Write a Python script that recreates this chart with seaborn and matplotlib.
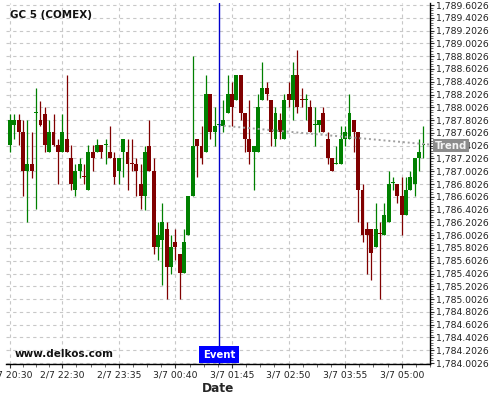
import numpy as np
import seaborn as sns
import matplotlib
matplotlib.use("Agg")
import matplotlib.pyplot as plt
from matplotlib.ticker import FuncFormatter, AutoMinorLocator
from matplotlib.transforms import blended_transform_factory

# 5-minute candles, GC 5 (COMEX)
opens = [1787.41, 1787.72, 1787.81, 1787.61, 1787.01, 1787.11, 1787.92, 1787.81, 1787.90, 1787.31,
         1787.61, 1787.41, 1787.31, 1787.51, 1787.21, 1786.71, 1787.01, 1786.92, 1786.71, 1787.31,
         1787.31, 1787.41, 1787.41, 1787.31, 1787.21, 1787.01, 1787.31, 1787.31, 1787.12, 1787.11,
         1786.81, 1786.61, 1787.40, 1787.01, 1785.82, 1785.92, 1786.10, 1785.51, 1785.90, 1785.71,
         1785.41, 1786.01, 1786.61, 1787.51, 1787.40, 1787.31, 1788.21, 1787.61, 1787.72, 1787.71,
         1787.91, 1788.21, 1788.11, 1788.51, 1787.91, 1787.51, 1787.31, 1787.31, 1788.11, 1788.30,
         1788.11, 1787.51, 1787.80, 1787.51, 1788.21, 1788.11, 1788.51, 1788.12, 1788.11, 1788.01,
         1787.72, 1787.72, 1787.91, 1787.51, 1787.21, 1787.12, 1787.12, 1787.51, 1787.51, 1787.80,
         1787.61, 1786.71, 1786.10, 1786.10, 1785.82, 1786.03, 1786.01, 1786.21, 1786.82, 1786.81,
         1786.61, 1786.31, 1786.71, 1786.81, 1787.21, 1787.41]
highs = [1787.90, 1787.90, 1787.90, 1787.81, 1787.81, 1787.61, 1788.30, 1788.10, 1788.00, 1787.81,
         1787.90, 1787.51, 1787.90, 1788.51, 1787.41, 1787.11, 1787.21, 1787.11, 1787.41, 1787.41,
         1787.51, 1787.41, 1787.51, 1787.71, 1787.31, 1787.21, 1787.51, 1787.51, 1787.51, 1787.21,
         1787.11, 1787.40, 1787.80, 1787.21, 1786.21, 1786.50, 1786.21, 1786.00, 1786.10, 1785.71,
         1786.10, 1786.61, 1788.80, 1787.51, 1787.71, 1788.51, 1788.21, 1788.01, 1787.72, 1788.11,
         1788.51, 1788.40, 1788.51, 1788.51, 1787.91, 1788.11, 1787.40, 1788.21, 1788.71, 1788.40,
         1788.11, 1788.01, 1787.91, 1788.21, 1788.40, 1788.71, 1788.90, 1788.30, 1788.21, 1788.11,
         1788.01, 1787.80, 1788.01, 1787.61, 1787.21, 1787.40, 1787.71, 1787.71, 1788.21, 1787.80,
         1787.61, 1786.81, 1786.21, 1786.10, 1786.50, 1786.21, 1786.50, 1787.01, 1786.91, 1786.81,
         1786.91, 1786.91, 1787.01, 1787.21, 1787.51, 1787.71]
lows = [1787.31, 1787.51, 1787.41, 1786.61, 1786.21, 1786.90, 1786.41, 1787.71, 1787.31, 1787.31,
        1787.39, 1786.81, 1787.31, 1787.31, 1786.71, 1786.61, 1786.90, 1786.81, 1786.71, 1787.01,
        1787.31, 1787.21, 1787.11, 1787.21, 1786.81, 1786.81, 1786.91, 1786.71, 1787.01, 1786.61,
        1786.41, 1786.40, 1787.01, 1785.71, 1785.61, 1785.22, 1785.00, 1785.40, 1785.61, 1785.01,
        1785.41, 1786.01, 1786.61, 1786.91, 1787.11, 1787.31, 1787.51, 1787.40, 1787.71, 1787.61,
        1787.91, 1787.71, 1788.11, 1787.80, 1787.31, 1787.11, 1786.71, 1787.31, 1788.11, 1788.11,
        1787.40, 1787.40, 1787.51, 1787.51, 1788.01, 1787.80, 1787.91, 1788.01, 1787.80, 1787.61,
        1787.40, 1787.61, 1787.61, 1787.11, 1787.01, 1787.11, 1787.12, 1787.40, 1787.51, 1787.31,
        1786.21, 1785.90, 1785.40, 1785.30, 1785.82, 1785.01, 1786.01, 1786.21, 1786.71, 1786.50,
        1786.00, 1786.31, 1786.71, 1786.61, 1787.01, 1787.21]
closes = [1787.81, 1787.81, 1787.61, 1787.01, 1787.11, 1787.01, 1787.92, 1787.72, 1787.41, 1787.61,
          1787.41, 1787.31, 1787.61, 1787.31, 1786.81, 1787.01, 1787.11, 1786.91, 1787.31, 1787.21,
          1787.41, 1787.31, 1787.41, 1787.21, 1786.91, 1787.21, 1787.51, 1787.11, 1787.11, 1787.01,
          1786.61, 1787.31, 1787.01, 1785.82, 1786.00, 1786.21, 1785.51, 1785.81, 1785.81, 1785.41,
          1785.90, 1786.61, 1787.40, 1787.40, 1787.21, 1788.21, 1787.61, 1787.71, 1787.72, 1787.80,
          1788.21, 1788.01, 1788.51, 1787.91, 1787.51, 1787.31, 1787.40, 1788.01, 1788.30, 1788.21,
          1787.61, 1787.91, 1787.61, 1788.11, 1788.11, 1788.51, 1788.01, 1788.11, 1788.11, 1787.61,
          1787.72, 1787.80, 1787.61, 1787.21, 1787.01, 1787.12, 1787.51, 1787.61, 1787.91, 1787.61,
          1786.71, 1786.01, 1786.01, 1785.72, 1786.10, 1786.02, 1786.31, 1786.81, 1786.82, 1786.61,
          1786.31, 1786.71, 1786.91, 1787.21, 1787.31, 1787.41]

tick_idx = [0, 12, 25, 38, 51, 64, 77, 90]
tick_labels = ["2/7 20:30", "2/7 22:30", "2/7 23:35", "3/7 00:40",
               "3/7 01:45", "3/7 02:50", "3/7 03:55", "3/7 05:00"]
price_ticks = np.round(1784.0026 + 0.2 * np.arange(29), 4)

event_idx = 48
trend_x = [48, 96.4]
trend_y = [1787.72, 1787.42]

sns.set_style("white")
plt.rcParams['font.family'] = ['DejaVu Sans']

o = np.array(opens); h = np.array(highs); l = np.array(lows); c = np.array(closes)
x = np.arange(len(o))
up = c >= o
colors = np.where(up, '#008000', '#800000')
body_lo = np.minimum(o, c)
body_h = np.maximum(np.abs(c - o), 0.016)

fig = plt.figure(figsize=(5, 4), dpi=100)
ax = fig.add_axes([0.012, 0.09, 0.848, 0.9025])

ax.vlines(x, l, h, colors=colors, linewidth=0.9, zorder=2)
ax.bar(x, body_h, bottom=body_lo, width=0.9, color=colors, linewidth=0, zorder=3)

sns.lineplot(x=trend_x, y=trend_y, ax=ax, color='#a0a0a0', linewidth=1.4,
             linestyle=(0, (1, 1.5)), zorder=4)
ax.axvline(event_idx, color='#0000cc', linewidth=1, zorder=5)

ax.set_xlim(-0.92, 96.42)
ax.set_ylim(1783.987, 1789.634)

ax.set_xticks(tick_idx)
ax.set_xticklabels(tick_labels)
minor = []
for a, b in zip(tick_idx[:-1], tick_idx[1:]):
    minor += list(np.linspace(a, b, 5)[1:-1])
minor += [90 + 3.25 * k for k in (1, 2)]
ax.set_xticks(minor, minor=True)

ax.yaxis.tick_right()
ax.set_yticks(price_ticks)
ax.yaxis.set_major_formatter(FuncFormatter(lambda v, p: f"{v:,.4f}"))
ax.yaxis.set_minor_locator(AutoMinorLocator(5))

ax.tick_params(axis='both', which='major', labelsize=6.7, length=3, width=0.8,
               color='#333333', labelcolor='#222222', pad=1.5)
ax.tick_params(axis='both', which='minor', length=2, width=0.6, color='#555555')
ax.tick_params(axis='y', which='both', left=False, right=True)
ax.tick_params(axis='x', which='both', bottom=True)

ax.grid(True, which='major', color='#c8c8c8', linestyle=(0, (3, 3)), linewidth=0.8)
ax.set_axisbelow(True)

for s in ['left', 'top']:
    ax.spines[s].set_visible(False)
for s in ['right', 'bottom']:
    ax.spines[s].set_color('black')
    ax.spines[s].set_linewidth(1.0)

ax.set_xlabel("Date", fontsize=8.7, fontweight='bold', labelpad=2)
ax.set_ylabel("")

ax.text(0.009, 0.967, "GC 5 (COMEX)", transform=ax.transAxes, fontsize=7.5,
        fontweight='bold', color='#111111', ha='left', va='center')
ax.text(0.021, 0.028, "www.delkos.com", transform=ax.transAxes, fontsize=7.5,
        fontweight='bold', color='#111111', ha='left', va='center')

tr = blended_transform_factory(ax.transData, ax.transAxes)
ax.text(event_idx, 0.012, "Event", transform=tr, ha='center', va='bottom',
        fontsize=7.3, fontweight='bold', color='white', zorder=6,
        bbox=dict(boxstyle='square,pad=0.35', fc='#0000ff', ec='none'))

tr2 = blended_transform_factory(ax.transAxes, ax.transData)
ax.text(1.011, trend_y[-1] - 0.02, "Trend", transform=tr2, ha='left', va='center',
        fontsize=7.3, fontweight='bold', color='#f4f4f4', clip_on=False, zorder=6,
        bbox=dict(boxstyle='square,pad=0.15', fc='#8c8c8c', ec='none'))

fig.savefig("out.png", dpi=100)
